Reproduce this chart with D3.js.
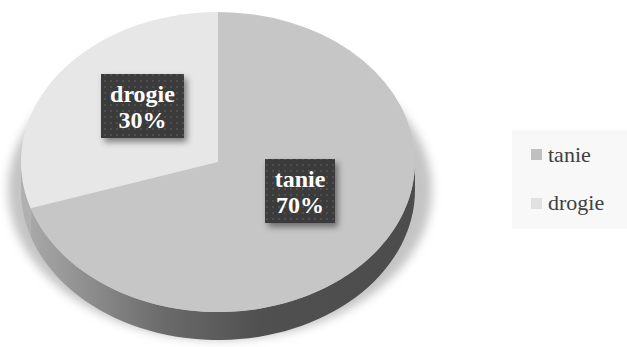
<!DOCTYPE html>
<html>
<head>
<meta charset="utf-8">
<script src="https://cdn.jsdelivr.net/npm/d3@7"></script>
</head>
<body style="margin:0">
<div id="chart"></div>
<script>
const categories = ['tanie', 'drogie'];
const values = [70, 30];
const labels = ['70%', '30%'];

const W = 627, H = 347;
const cx = 218, cy = 162, rx = 197, ry = 150, depth = 28;
const topColors = ['#c6c6c6', '#e7e7e7'];
const legendColors = ['#c0c0c0', '#e1e1e1'];

const svg = d3.select('#chart').append('svg')
  .attr('width', W).attr('height', H);
const defs = svg.append('defs');

// blurred shadow
defs.append('filter').attr('id', 'blur')
  .attr('x', '-20%').attr('y', '-20%').attr('width', '140%').attr('height', '140%')
  .append('feGaussianBlur').attr('stdDeviation', 5);

// side gradient
let grad = defs.append('linearGradient').attr('id', 'side')
  .attr('x1', 0).attr('x2', 1).attr('y1', 0).attr('y2', 0);
grad.append('stop').attr('offset', '0%').attr('stop-color', '#a8a8a8');
grad.append('stop').attr('offset', '35%').attr('stop-color', '#6a6a6a');
grad.append('stop').attr('offset', '60%').attr('stop-color', '#505050');
grad.append('stop').attr('offset', '100%').attr('stop-color', '#4c4c4c');

// label pattern
let pat = defs.append('pattern').attr('id', 'dots')
  .attr('width', 6).attr('height', 6).attr('patternUnits', 'userSpaceOnUse');
pat.append('rect').attr('width', 6).attr('height', 6).attr('fill', '#3b3b3b');
pat.append('rect').attr('x', 2).attr('y', 2).attr('width', 2).attr('height', 2).attr('fill', '#505050');

let labelShadow = defs.append('filter').attr('id', 'lshadow')
  .attr('x', '-20%').attr('y', '-20%').attr('width', '150%').attr('height', '150%');
labelShadow.append('feDropShadow').attr('dx', 3).attr('dy', 4)
  .attr('stdDeviation', 3).attr('flood-color', '#000').attr('flood-opacity', 0.45);

// legend
let legend = svg.append('g');
legend.append('rect')
  .attr('x', 512).attr('y', 130).attr('width', 115).attr('height', 99)
  .attr('fill', '#f8f8f8');
legend.selectAll('rect.key')
  .data(categories)
  .join('rect')
  .attr('class', 'key')
  .attr('x', 531).attr('y', (d, i) => 149 + i * 49)
  .attr('width', 11).attr('height', 11)
  .attr('fill', (d, i) => legendColors[i]);
legend.selectAll('text')
  .data(categories)
  .join('text')
  .attr('x', 548).attr('y', (d, i) => 162 + i * 48)
  .style('font-family', d => "'Liberation Serif'")
  .attr('font-size', 22).attr('fill', '#404040')
  .text(d => d);

// shadow under pie
svg.append('ellipse')
  .attr('cx', cx + 2).attr('cy', cy + 28).attr('rx', rx + 15).attr('ry', ry)
  .attr('fill', '#c4c4c4').attr('filter', 'url(#blur)');

let pie = d3.pie().sort(null).value(d => d)(values);

function pt(a, dy) {
  return [cx + rx * Math.sin(a), cy - ry * Math.cos(a) + dy];
}

// side walls (visible front part: angle between PI/2 and 3PI/2)
function sidePath(a0, a1) {
  let s = Math.max(a0, Math.PI / 2), e = Math.min(a1, 3 * Math.PI / 2);
  if (e <= s) return null;
  let n = 60, p = d3.path();
  let first = pt(s, 0);
  p.moveTo(first[0], first[1]);
  for (let i = 1; i <= n; i++) {
    let q = pt(s + (e - s) * i / n, 0);
    p.lineTo(q[0], q[1]);
  }
  for (let i = n; i >= 0; i--) {
    let q = pt(s + (e - s) * i / n, depth);
    p.lineTo(q[0], q[1]);
  }
  p.closePath();
  return p.toString();
}

let sideFills = ['url(#side)', '#b0b0b0'];
pie.forEach((d, i) => {
  let path = sidePath(d.startAngle, d.endAngle);
  if (path) {
    svg.append('path').attr('d', path).attr('fill', sideFills[i]);
  }
});

// top faces
let arc = d3.arc().innerRadius(0).outerRadius(rx);
svg.append('g')
  .attr('transform', `translate(${cx},${cy}) scale(1,${ry / rx})`)
  .selectAll('path')
  .data(pie)
  .join('path')
  .attr('d', arc)
  .attr('fill', (d, i) => topColors[i]);

// data labels
let labelBoxes = [
  {x: 265, y: 159, w: 70, h: 64},
  {x: 101, y: 74, w: 83, h: 64}
];
let lab = svg.append('g').selectAll('g')
  .data(pie)
  .join('g');
lab.append('rect')
  .attr('x', (d, i) => labelBoxes[i].x).attr('y', (d, i) => labelBoxes[i].y)
  .attr('width', (d, i) => labelBoxes[i].w).attr('height', (d, i) => labelBoxes[i].h)
  .attr('fill', 'url(#dots)').attr('filter', 'url(#lshadow)');
lab.append('text')
  .attr('text-anchor', 'middle')
  .attr('x', (d, i) => labelBoxes[i].x + labelBoxes[i].w / 2)
  .attr('y', (d, i) => labelBoxes[i].y + 28)
  .style('font-family', d => "'Liberation Serif'")
  .attr('font-weight', 'bold').attr('font-size', 24).attr('fill', '#fff')
  .text((d, i) => categories[i]);
lab.append('text')
  .attr('text-anchor', 'middle')
  .attr('x', (d, i) => labelBoxes[i].x + labelBoxes[i].w / 2)
  .attr('y', (d, i) => labelBoxes[i].y + 54)
  .style('font-family', d => "'Liberation Serif'")
  .attr('font-weight', 'bold').attr('font-size', 24).attr('fill', '#fff')
  .text((d, i) => labels[i]);
</script>
</body>
</html>
